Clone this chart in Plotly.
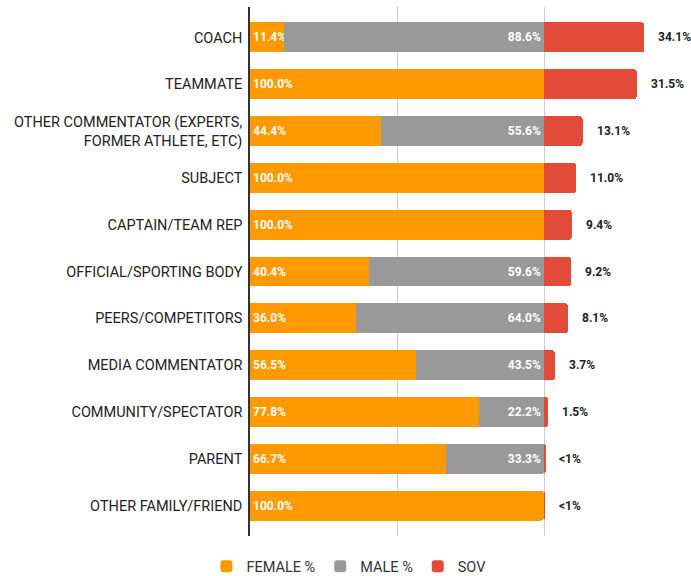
import plotly.graph_objects as go

categories = [
    "COACH", "TEAMMATE", "OTHER COMMENTATOR (EXPERTS,<br>FORMER ATHLETE, ETC)",
    "SUBJECT", "CAPTAIN/TEAM REP", "OFFICIAL/SPORTING BODY", "PEERS/COMPETITORS",
    "MEDIA COMMENTATOR", "COMMUNITY/SPECTATOR", "PARENT", "OTHER FAMILY/FRIEND",
]
female_pct = [11.4, 100.0, 44.4, 100.0, 100.0, 40.4, 36.0, 56.5, 77.8, 66.7, 100.0]
male_pct = [88.6, 0.0, 55.6, 0.0, 0.0, 59.6, 64.0, 43.5, 22.2, 33.3, 0.0]
sov = [34.1, 31.5, 13.1, 11.0, 9.4, 9.2, 8.1, 3.7, 1.5, 0.4, 0.3]
sov_labels = ["34.1%", "31.5%", "13.1%", "11.0%", "9.4%", "9.2%", "8.1%", "3.7%", "1.5%", "<1%", "<1%"]

ORANGE = "#FF9900"
GREY = "#999999"
RED = "#E24A39"
FONT = "Roboto"

fig = go.Figure()
fig.add_trace(go.Bar(
    y=categories, x=female_pct, orientation="h", name="FEMALE %",
    marker=dict(color=ORANGE, line=dict(width=0)),
    text=[f"{v:.1f}%" for v in female_pct],
    textposition="inside", insidetextanchor="start", textangle=0,
    insidetextfont=dict(family=FONT, size=12, color="white", weight="bold"),
    constraintext="none",
))
fig.add_trace(go.Bar(
    y=categories, x=male_pct, orientation="h", name="MALE %",
    marker=dict(color=GREY, line=dict(width=0)),
    text=[f"{v:.1f}%" if v > 0 else "" for v in male_pct],
    textposition="inside", insidetextanchor="end", textangle=0,
    insidetextfont=dict(family=FONT, size=12, color="white", weight="bold"),
    constraintext="none",
))
fig.add_trace(go.Bar(
    y=categories, x=sov, orientation="h", name="SOV",
    marker=dict(color=RED, line=dict(width=0)),
))

for cat, f, m, s, lab in zip(categories, female_pct, male_pct, sov, sov_labels):
    fig.add_annotation(
        x=f + m + s, y=cat, text=lab, showarrow=False,
        xanchor="left", yanchor="middle", xshift=12,
        font=dict(family=FONT, size=12, color="#222222", weight="bold"),
    )

fig.update_layout(
    width=691, height=576,
    barmode="stack", bargap=0.36, barcornerradius=3,
    margin=dict(l=250, r=0, t=7, b=40, autoexpand=False),
    paper_bgcolor="white", plot_bgcolor="white",
    font=dict(family=FONT, size=14, color="#222222"),
    uniformtext=dict(minsize=12, mode="show"),
    showlegend=True,
    legend=dict(
        orientation="h", xref="container", yref="paper",
        x=0.505, xanchor="center", y=-0.027, yanchor="top",
        font=dict(family=FONT, size=14.5, color="#333333"),
        traceorder="normal",
    ),
    xaxis=dict(
        range=[0, 150], tickvals=[50, 100], showticklabels=False,
        showgrid=True, gridcolor="#CCCCCC", gridwidth=1, zeroline=False,
        fixedrange=True,
    ),
    yaxis=dict(
        type="category", range=[10.65, -0.65],
        showline=True, linecolor="#333333", linewidth=1.5,
        showgrid=False, ticks="", ticklabelstandoff=3, fixedrange=True,
        tickfont=dict(family=FONT, size=14.5, color="#222222"),
    ),
)

fig.write_html(
    "out.html",
    config={"displayModeBar": False},
    post_script="document.body.style.margin='0';document.body.style.overflow='hidden';",
)
